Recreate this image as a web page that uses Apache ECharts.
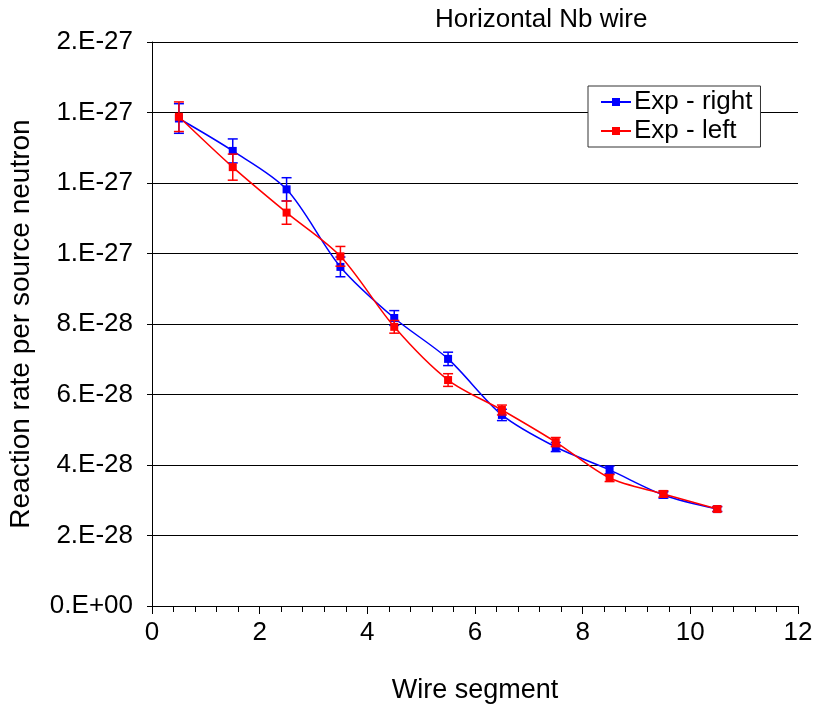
<!DOCTYPE html>
<html>
<head>
<meta charset="utf-8">
<title>Horizontal Nb wire</title>
<script src="https://cdn.jsdelivr.net/npm/echarts@6/dist/echarts.min.js"></script>
<style>
  html, body { margin: 0; padding: 0; background: #fff; }
  #chart { width: 818px; height: 707px; }
</style>
</head>
<body>
<div id="chart"></div>
<script>
// values are in units of 1e-27 (reaction rate per source neutron)
var UNIT = 1e-27;
var segments = [0.5, 1.5, 2.5, 3.5, 4.5, 5.5, 6.5, 7.5, 8.5, 9.5, 10.5];
var rightRate = [1.383, 1.291, 1.182, 0.962, 0.817, 0.701, 0.542, 0.451, 0.386, 0.315, 0.275];
var rightErr  = [0.042, 0.034, 0.033, 0.028, 0.021, 0.019, 0.016, 0.013, 0.011, 0.009, 0.007];
var leftRate  = [1.388, 1.245, 1.116, 0.992, 0.792, 0.641, 0.556, 0.465, 0.363, 0.318, 0.275];
var leftErr   = [0.042, 0.037, 0.033, 0.028, 0.018, 0.018, 0.014, 0.013, 0.010, 0.009, 0.007];

var FONT = '"Liberation Sans", Arial, sans-serif';

// Excel style "0.E+00" label
function sciLabel(v) {
  var x = v * UNIT;
  if (Math.abs(x) < 1e-40) return '0.E+00';
  var e = Math.floor(Math.log10(Math.abs(x)));
  var m = Math.round(x / Math.pow(10, e));
  if (m >= 10) { m = m / 10; e += 1; }
  var sign = e < 0 ? '-' : '+';
  var ae = Math.abs(e);
  return m + '.E' + sign + (ae < 10 ? '0' + ae : ae);
}

function pairs(xs, ys) {
  return xs.map(function (x, i) { return [x, ys[i]]; });
}
function errData(xs, ys, es) {
  return xs.map(function (x, i) { return [x, ys[i] - es[i], ys[i] + es[i]]; });
}

function errBar(color) {
  return function (params, api) {
    var lo = api.coord([api.value(0), api.value(1)]);
    var hi = api.coord([api.value(0), api.value(2)]);
    var w = 5;
    var st = { stroke: color, lineWidth: 1.5 };
    return {
      type: 'group',
      children: [
        { type: 'line', shape: { x1: lo[0], y1: lo[1], x2: hi[0], y2: hi[1] }, style: st },
        { type: 'line', shape: { x1: lo[0] - w, y1: lo[1], x2: lo[0] + w, y2: lo[1] }, style: st },
        { type: 'line', shape: { x1: hi[0] - w, y1: hi[1], x2: hi[0] + w, y2: hi[1] }, style: st }
      ]
    };
  };
}

var myChart = echarts.init(document.getElementById('chart'));
var option = {
  backgroundColor: '#fff',
  animation: false,
  textStyle: { fontFamily: FONT },
  title: {
    text: 'Horizontal Nb wire',
    left: 430,
    top: 2,
    textStyle: { fontFamily: FONT, fontSize: 26, fontWeight: 'normal', color: '#000' }
  },
  legend: {
    orient: 'vertical',
    left: 588,
    top: 86,
    data: ['Exp - right', 'Exp - left'],
    backgroundColor: '#fff',
    borderColor: '#333',
    borderWidth: 1,
    borderRadius: 0,
    padding: [3, 8, 3, 12],
    itemGap: 3,
    itemWidth: 30,
    itemHeight: 10,
    textStyle: { fontFamily: FONT, fontSize: 26, color: '#000', padding: [0, 0, 0, -2] }
  },
  grid: {
    left: 152,
    right: 20,
    top: 42,
    bottom: 101,
    containLabel: false,
    outerBoundsMode: 'none'
  },
  xAxis: {
    type: 'value',
    min: 0,
    max: 12,
    interval: 2,
    name: 'Wire segment',
    nameLocation: 'middle',
    nameGap: 71,
    nameTextStyle: { fontFamily: FONT, fontSize: 27, color: '#000', verticalAlign: 'top' },
    axisLine: { show: true, onZero: false, lineStyle: { color: '#000', width: 1 } },
    axisTick: { show: true, inside: false, length: 8, lineStyle: { color: '#000' } },
    minorTick: { show: true, splitNumber: 5, length: 6, lineStyle: { color: '#000' } },
    axisLabel: { fontFamily: FONT, fontSize: 26, color: '#000', margin: 14 },
    splitLine: { show: false }
  },
  yAxis: {
    type: 'value',
    min: 0,
    max: 1.6,
    interval: 0.2,
    name: 'Reaction rate per source neutron',
    nameLocation: 'middle',
    nameGap: 117,
    nameTextStyle: { fontFamily: FONT, fontSize: 28, color: '#000' },
    axisLine: { show: true, lineStyle: { color: '#000', width: 1 } },
    axisTick: { show: true, inside: false, length: 5, lineStyle: { color: '#000' } },
    axisLabel: {
      fontFamily: FONT, fontSize: 26, color: '#000', margin: 19,
      formatter: function (v) { return sciLabel(v); }
    },
    splitLine: { show: true, lineStyle: { color: '#000', width: 1 } }
  },
  series: [
    {
      name: 'Exp - right',
      type: 'line',
      smooth: 0.3,
      symbol: 'rect',
      symbolSize: 8,
      z: 3,
      itemStyle: { color: '#0000ff' },
      lineStyle: { color: '#0000ff', width: 1.5 },
      data: pairs(segments, rightRate)
    },
    {
      name: 'Exp - right',
      type: 'custom',
      z: 2,
      renderItem: errBar('#0000ff'),
      encode: { x: 0, y: [1, 2] },
      data: errData(segments, rightRate, rightErr)
    },
    {
      name: 'Exp - left',
      type: 'line',
      smooth: 0.3,
      symbol: 'rect',
      symbolSize: 8,
      z: 5,
      itemStyle: { color: '#ff0000' },
      lineStyle: { color: '#ff0000', width: 1.5 },
      data: pairs(segments, leftRate)
    },
    {
      name: 'Exp - left',
      type: 'custom',
      z: 4,
      renderItem: errBar('#ff0000'),
      encode: { x: 0, y: [1, 2] },
      data: errData(segments, leftRate, leftErr)
    }
  ]
};
myChart.setOption(option);
window.addEventListener('resize', function () {
  myChart.resize();
});
</script>
</body>
</html>
